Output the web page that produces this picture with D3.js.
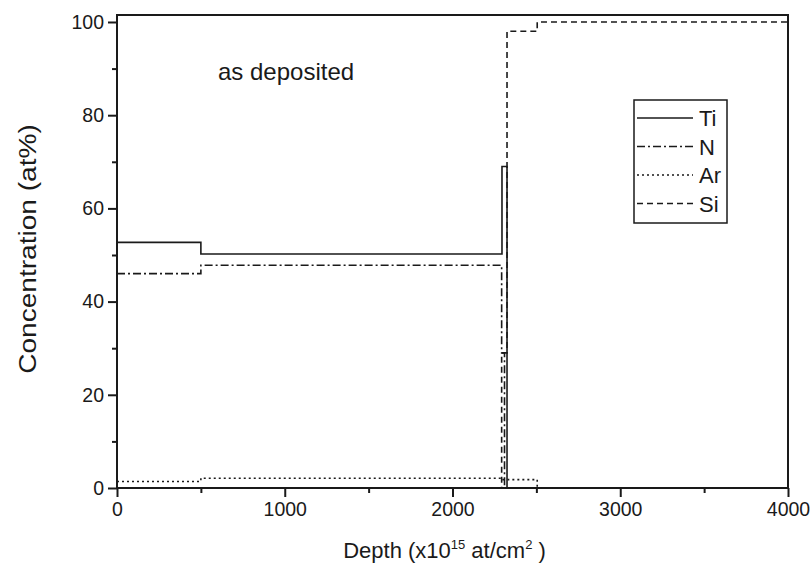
<!DOCTYPE html>
<html>
<head>
<meta charset="utf-8">
<script src="https://cdn.jsdelivr.net/npm/d3@7"></script>
<style>
  body { margin: 0; background: #fff; }
  svg { font-family: "Liberation Sans", Arial, sans-serif; }
</style>
</head>
<body>
<div id="chartArea"></div>
<script>
// data (step profiles: value holds from depth[i] to depth[i+1])

const tiDepth = [0, 500, 2295, 2325, 4000];
const tiConc = [52.7, 50.2, 69, 0, 0];

const nDepth = [0, 500, 2293, 2310, 4000];
const nConc = [46.0, 47.8, 29, 0, 0];

const arDepth = [0, 500, 2293, 2505, 4000];
const arConc = [1.4, 2.1, 1.8, 0, 0];

const siDepth = [0, 2293, 2325, 2505, 4000];
const siConc = [0, 29, 98, 100, 100];

const seriesNames = ["Ti", "N", "Ar", "Si"];
const xTicks = [0, 1000, 2000, 3000, 4000];
const yTicks = [0, 20, 40, 60, 80, 100];

// chart

const chart = {};
chart.width = 812;
chart.height = 569;
chart.margin = { top: 15, right: 24, bottom: 81, left: 117 };
chart.innerW = chart.width - chart.margin.left - chart.margin.right;
chart.innerH = chart.height - chart.margin.top - chart.margin.bottom;

chart.svg = d3
  .select("#chartArea")
  .append("svg")
  .attr("width", chart.width)
  .attr("height", chart.height);

const g = chart.svg
  .append("g")
  .attr("transform", "translate(" + chart.margin.left + "," + chart.margin.top + ")");

var x = d3.scaleLinear([0, 4000], [0, chart.innerW]);
var y = d3.scaleLinear([0, 101.5], [chart.innerH, 0]);

const ink = "#1a1a1a";

// frame
g.append("rect")
  .attr("x", 0)
  .attr("y", 0)
  .attr("width", chart.innerW)
  .attr("height", chart.innerH)
  .attr("fill", "none")
  .attr("stroke", ink)
  .attr("stroke-width", 2);

// minor ticks
g.append("g")
  .attr("transform", "translate(0," + chart.innerH + ")")
  .call(d3.axisBottom(x).tickValues([500, 1500, 2500, 3500]).tickSize(5).tickFormat(""))
  .call((a) => a.select(".domain").remove());
g.append("g")
  .call(d3.axisLeft(y).tickValues([10, 30, 50, 70, 90]).tickSize(5).tickFormat(""))
  .call((a) => a.select(".domain").remove());

// major ticks
const xAxis = g
  .append("g")
  .attr("transform", "translate(0," + chart.innerH + ")")
  .call(d3.axisBottom(x).tickValues(xTicks).tickFormat(d3.format("d")).tickSize(9).tickPadding(5));
const yAxis = g
  .append("g")
  .call(d3.axisLeft(y).tickValues(yTicks).tickSize(9).tickPadding(4));

[xAxis, yAxis].forEach((a) => a.select(".domain").remove());
g.selectAll(".tick line").attr("stroke", ink).attr("stroke-width", 2);
g.selectAll(".tick text")
  .attr("fill", ink)
  .style("font-size", "19.5px")
  .style("font-family", "Liberation Sans, Arial, sans-serif");

// series
const styles = {
  Ti: null,
  N: "8,3,2,3",
  Ar: "2,3",
  Si: "6,4",
};

const series = [
  { name: "Ti", depth: tiDepth, conc: tiConc },
  { name: "N", depth: nDepth, conc: nConc },
  { name: "Ar", depth: arDepth, conc: arConc },
  { name: "Si", depth: siDepth, conc: siConc },
];

const line = d3
  .line()
  .x((d) => x(d[0]))
  .y((d) => y(d[1]))
  .curve(d3.curveStepAfter);

g.append("g")
  .selectAll("path")
  .data(series)
  .join("path")
  .attr("d", (s) => line(s.depth.map((dv, i) => [dv, s.conc[i]])))
  .attr("fill", "none")
  .attr("stroke", ink)
  .attr("stroke-width", 1.6)
  .attr("stroke-dasharray", (s) => styles[s.name]);

// annotation
chart.svg
  .append("text")
  .attr("x", 218)
  .attr("y", 80)
  .attr("fill", ink)
  .style("font-size", "24px")
  .text("as deposited");

// legend
const legend = chart.svg.append("g").attr("transform", "translate(634,100)");
legend
  .append("rect")
  .attr("width", 93)
  .attr("height", 123)
  .attr("fill", "#fff")
  .attr("stroke", ink)
  .attr("stroke-width", 1.5);

const rows = legend
  .selectAll(".row")
  .data(seriesNames)
  .join("g")
  .attr("class", "row")
  .attr("transform", (d, i) => "translate(0," + (18 + i * 28.5) + ")");
rows
  .append("line")
  .attr("x1", 3)
  .attr("x2", 59)
  .attr("stroke", ink)
  .attr("stroke-width", 1.6)
  .attr("stroke-dasharray", (d) => styles[d]);
rows
  .append("text")
  .attr("x", 65)
  .attr("y", 8)
  .attr("fill", ink)
  .style("font-size", "22px")
  .text((d) => d);

// axis titles
const xTitle = chart.svg
  .append("text")
  .attr("x", chart.margin.left + chart.innerW / 2 - 8)
  .attr("y", 558)
  .attr("text-anchor", "middle")
  .attr("fill", ink)
  .style("font-size", "22px");
xTitle.append("tspan").text("Depth (x10");
xTitle.append("tspan").attr("dy", -9).style("font-size", "13px").text("15");
xTitle.append("tspan").attr("dy", 9).text(" at/cm");
xTitle.append("tspan").attr("dy", -9).style("font-size", "13px").text("2");
xTitle.append("tspan").attr("dy", 9).text(" )");

// y title is drawn stretched along its length, as in the source image
chart.svg
  .append("text")
  .attr("transform", "translate(36,249) rotate(-90) scale(1.17,1)")
  .attr("text-anchor", "middle")
  .attr("fill", ink)
  .style("font-size", "24px")
  .text("Concentration (at%)");
</script>
</body>
</html>
